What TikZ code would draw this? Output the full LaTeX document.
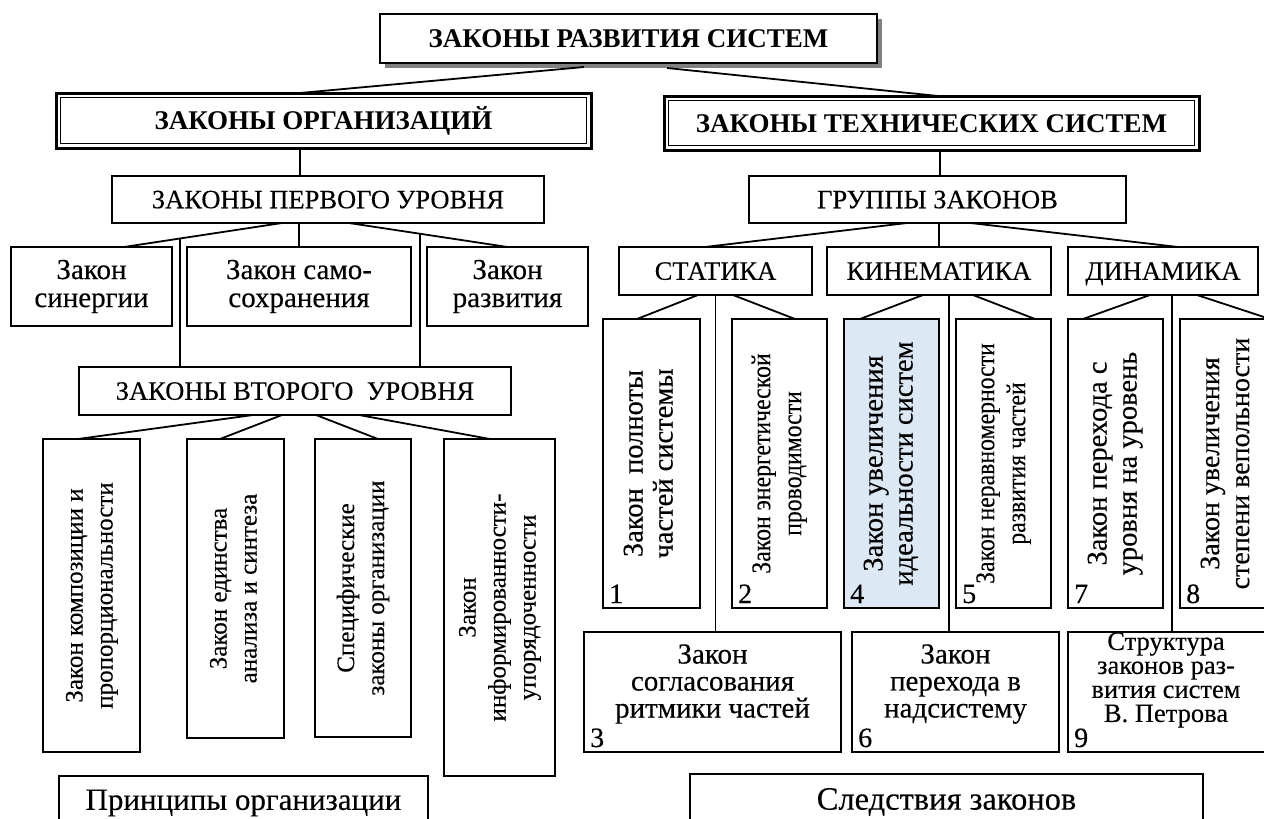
\documentclass[tikz,border=0pt]{standalone}
\usepackage{fontspec}
\setmainfont{Liberation Serif}[BoldFont={Liberation Serif Bold}]
\newfontfamily\rmheavy{Liberation Serif}[FakeBold=0.25]
\newfontfamily\condfont{Liberation Serif}[FakeStretch=0.88,FakeBold=0.25]
\usetikzlibrary{shadows,calc}
\definecolor{lightblue}{RGB}{221,232,245}
\newcommand\vtext[1]{\rotatebox{90}{\begin{tabular}{@{}c@{}}#1\end{tabular}}}
\begin{document}
\begin{tikzpicture}[x=1pt,y=-1pt,
  bx/.style={draw, line width=1.8pt, fill=white, inner sep=0pt, outer sep=0pt, align=center,
             font=\rmheavy\fontsize{29}{28}\selectfont},
  caps/.style={bx, font=\rmheavy\fontsize{26.5}{30}\selectfont, text height=17.5pt, text depth=0pt},
  bold/.style={bx, font=\bfseries\fontsize{27}{30}\selectfont, text height=18pt, text depth=0pt},
  dbl/.style={bold, line width=3pt},
  vl/.style={bx, font=\rmheavy\fontsize{25}{30}\selectfont},
  vr/.style={bx, font=\rmheavy\fontsize{28.5}{30}\selectfont},
  vc/.style={bx, font=\condfont\fontsize{27}{31}\selectfont},
  ln/.style={line width=1.8pt},
  num/.style={anchor=base west, inner sep=0pt, font=\rmheavy\fontsize{28}{28}\selectfont},
  txt/.style={inner sep=0pt, align=center, font=\rmheavy\fontsize{29}{27}\selectfont}]
\useasboundingbox (0,0) rectangle (1264,819);
\fill[white] (0,0) rectangle (1264,819);
\clip (0,0) rectangle (1264,819);

% top
\node[bold, drop shadow={shadow xshift=5pt,shadow yshift=-5pt,fill=black!50,draw=none,opacity=1},
      minimum width=497pt, minimum height=49pt]
      (top) at (628.5,38.5) {ЗАКОНЫ РАЗВИТИЯ СИСТЕМ};

% double boxes
\node[dbl, minimum width=535pt, minimum height=55pt] (org) at (323.5,120.5) {ЗАКОНЫ ОРГАНИЗАЦИЙ};
\draw[line width=1.2pt] ([shift={(4.5pt,-4.5pt)}]org.north west) rectangle ([shift={(-4.5pt,4.5pt)}]org.south east);
\node[dbl, minimum width=535pt, minimum height=54pt] (tech) at (931.5,123) {ЗАКОНЫ ТЕХНИЧЕСКИХ СИСТЕМ};
\draw[line width=1.2pt] ([shift={(4.5pt,-4.5pt)}]tech.north west) rectangle ([shift={(-4.5pt,4.5pt)}]tech.south east);

% left branch
\node[caps, minimum width=432pt, minimum height=47pt] (first) at (328,199.5) {ЗАКОНЫ ПЕРВОГО УРОВНЯ};
\node[bx, minimum width=161pt, minimum height=79pt] (syn) at (91.5,286.5) {Закон\\синергии};
\node[bx, minimum width=224pt, minimum height=79pt] (self) at (299,286.5) {Закон само-\\сохранения};
\node[bx, minimum width=161pt, minimum height=79pt] (dev) at (507.5,286.5) {Закон\\развития};
\node[caps, minimum width=432pt, minimum height=48pt] (second) at (295,391) {ЗАКОНЫ ВТОРОГО~ УРОВНЯ};

\node[vl, minimum width=97pt, minimum height=313pt] (A) at (91.5,595.5) {\vtext{Закон композиции и\\пропорциональности}};
\node[vl, minimum width=97pt, minimum height=299pt] (B) at (235.5,588.5) {\vtext{Закон единства\\анализа и синтеза}};
\node[vl, minimum width=96pt, minimum height=298pt] (C) at (363,588) {\vtext{Специфические\\законы организации}};
\node[vl, minimum width=111pt, minimum height=337pt] (D) at (499.5,607.5) {\vtext{Закон\\информированности-\\упорядоченности}};
\node[bx, font=\rmheavy\fontsize{31}{34}\selectfont, minimum width=369pt, minimum height=54pt] (princ) at (243.5,803) {Принципы организации};

% right branch
\node[caps, minimum width=377pt, minimum height=47pt] (groups) at (937.5,199.5) {ГРУППЫ ЗАКОНОВ};
\node[caps, minimum width=193pt, minimum height=48pt] (stat) at (715.5,271) {СТАТИКА};
\node[caps, minimum width=224pt, minimum height=48pt] (kin) at (939,271) {КИНЕМАТИКА};
\node[caps, minimum width=190pt, minimum height=48pt] (dyn) at (1163,271) {ДИНАМИКА};

\node[vr, minimum width=97pt, minimum height=289pt] (b1) at (651.5,463.5) {\vtext{Закон~ полноты\\частей системы}};
\node[vc, minimum width=95pt, minimum height=289pt] (b2) at (779.5,463.5) {\vtext{Закон энергетической\\проводимости}};
\node[vr, fill=lightblue, minimum width=95pt, minimum height=289pt] (b4) at (891.5,463.5) {\vtext{Закон увеличения\\идеальности систем}};
\node[vc, minimum width=95pt, minimum height=289pt] (b5) at (1003.5,463.5) {\vtext{Закон неравномерности\\развития частей}};
\node[vr, minimum width=95pt, minimum height=289pt] (b7) at (1115.5,463.5) {\vtext{Закон перехода с\\уровня на уровень}};
\node[vr, minimum width=110pt, minimum height=289pt] (b8) at (1235,463.5) {};
\node[txt, font=\rmheavy\fontsize{28}{30}\selectfont, rotate=90] (b8t) at (1225,463.5) {Закон увеличения\\степени вепольности};

\node[bx, minimum width=257pt, minimum height=120pt] (b3) at (712.5,692) {};
\node[bx, minimum width=207pt, minimum height=120pt] (b6) at (955.5,692) {};
\node[bx, minimum width=222pt, minimum height=120pt] (b9) at (1179,692) {};
\node[txt] (b3t) at ([yshift=8pt]b3.center) {Закон\\согласования\\ритмики частей};
\node[txt] (b6t) at ([yshift=8pt]b6.center) {Закон\\перехода в\\надсистему};
\node[txt, font=\rmheavy\fontsize{26.5}{24}\selectfont] (b9t) at ([xshift=-13pt,yshift=12pt]b9.center) {Структура\\законов раз-\\вития систем\\В. Петрова};
\node[bx, font=\rmheavy\fontsize{32.5}{34}\selectfont, minimum width=513pt, minimum height=56pt] (cons) at (946.5,802) {Следствия законов};

% numbers
\foreach \b/\n in {b1/1,b2/2,b4/4,b5/5,b7/7,b8/8,b3/3,b6/6,b9/9}
  \node[num] (n\n) at ([xshift=6pt,yshift=5pt]\b.south west) {\n};

% connectors top
\draw[ln] ([xshift=-44.5pt,yshift=-4pt]top.south) -- ([xshift=-23.5pt]org.north);
\draw[ln] ([xshift=38.5pt,yshift=-5pt]top.south) -- ([xshift=6.5pt]tech.north);
\draw[ln] ([xshift=-23.5pt]org.south) -- ([xshift=-23.5pt]org.south |- first.north);
\draw[ln] ([xshift=8.5pt]tech.south) -- ([xshift=8.5pt]tech.south |- groups.north);

% first level
\coordinate (f1) at ([xshift=-46pt]first.south);
\coordinate (s1) at ([xshift=32.5pt]syn.north);
\coordinate (f2) at ([xshift=21pt]first.south);
\draw[ln] (f1) -- (s1);
\draw[ln] (self.north |- first.south) -- (self.north);
\draw[ln] (f2) -- (dev.north);
\coordinate (j1) at ($(f1)!0.646!(s1)$);
\coordinate (j2) at ($(f2)!0.4465!(dev.north)$);
\draw[ln] (j1) -- (j1 |- second.north);
\draw[ln] (j2) -- (j2 |- second.north);

% second level
\draw[ln] ([xshift=-42pt]second.south) -- ([xshift=-13.5pt]A.north);
\draw[ln] ([xshift=-13pt]second.south) -- ([xshift=-15.5pt]B.north);
\draw[ln] ([xshift=21pt]second.south) -- ([xshift=15pt]C.north);
\draw[ln] ([xshift=64pt]second.south) -- ([xshift=-9.5pt]D.north);

% groups
\draw[ln] ([xshift=-30.5pt]groups.south) -- ([xshift=-10.5pt]stat.north);
\draw[ln] (kin.north |- groups.south) -- (kin.north);
\draw[ln] ([xshift=33pt]groups.south) -- ([xshift=15pt]dyn.north);

% statics
\draw[ln] ([xshift=-17.5pt]stat.south) -- ([xshift=-14.5pt]b1.north);
\draw[ln] (stat.south) -- (stat.south |- b3.north);
\draw[ln] ([xshift=17.5pt]stat.south) -- ([xshift=15.5pt]b2.north);
% kinematics
\draw[ln] ([xshift=-16pt]kin.south) -- ([xshift=-31.5pt]b4.north);
\draw[ln] ([xshift=10pt]kin.south) -- ([xshift=10pt]kin.south |- b6.north);
\draw[ln] ([xshift=34pt]kin.south) -- ([xshift=31.5pt]b5.north);
% dynamics
\draw[ln] ([xshift=-13pt]dyn.south) -- ([xshift=-32.5pt]b7.north);
\draw[ln] ([xshift=9pt]dyn.south) -- ([xshift=9pt]dyn.south |- b9.north);
\draw[ln] ([xshift=34pt]dyn.south) -- ([xshift=35pt]b8.north);
\end{tikzpicture}
\end{document}
